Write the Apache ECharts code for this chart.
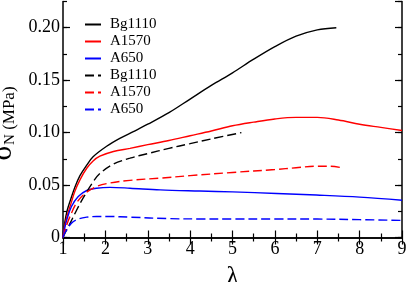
<!DOCTYPE html>
<html><head><meta charset="utf-8">
<script src="https://cdn.jsdelivr.net/npm/echarts@6/dist/echarts.min.js"></script>
<style>html,body{margin:0;padding:0;background:#fff}#c{width:407px;height:282px}</style>
</head><body><div id="c"></div>
<script>
// ---- data ----
const seriesNames = ['Bg1110', 'A1570', 'A650', 'Bg1110 ', 'A1570 ', 'A650 '];
const yTickLabels = ['0', '0.05', '0.10', '0.15', '0.20'];
const xTickLabels = ['1', '2', '3', '4', '5', '6', '7', '8', '9'];

const bgSolidX = [1, 1.04, 1.1, 1.17, 1.28, 1.4, 1.56, 1.71, 2.03, 2.34, 2.66, 3.0, 3.5, 4.0, 4.5, 5.0, 5.5, 6.0, 6.5, 7.0, 7.45];
const bgSolidY = [0, 0.014, 0.026, 0.035, 0.048, 0.059, 0.069, 0.077, 0.087, 0.0945, 0.101, 0.108, 0.119, 0.132, 0.145, 0.157, 0.170, 0.182, 0.192, 0.198, 0.200];

const a1570SolidX = [1, 1.04, 1.1, 1.17, 1.28, 1.4, 1.56, 1.71, 1.87, 2.19, 2.58, 3.0, 3.5, 4.0, 4.5, 5.0, 5.5, 6.0, 6.5, 7.0, 7.5, 8.0, 8.5, 9.0];
const a1570SolidY = [0, 0.011, 0.021, 0.030, 0.044, 0.055, 0.066, 0.073, 0.0775, 0.082, 0.0850, 0.0885, 0.0925, 0.097, 0.1015, 0.1065, 0.110, 0.113, 0.1145, 0.1145, 0.112, 0.108, 0.105, 0.102];

const a650SolidX = [1, 1.04, 1.09, 1.2, 1.36, 1.56, 1.79, 2.11, 2.58, 3.29, 4.23, 5.0, 6.04, 6.98, 8.0, 9.0];
const a650SolidY = [0, 0.009, 0.017, 0.0295, 0.039, 0.0448, 0.047, 0.0478, 0.047, 0.0454, 0.0443, 0.0435, 0.042, 0.0405, 0.0385, 0.0355];

const bgDashX = [1, 1.08, 1.17, 1.32, 1.48, 1.71, 1.87, 2.19, 2.58, 3.0, 3.5, 4.0, 4.5, 5.21];
const bgDashY = [0, 0.007, 0.0137, 0.026, 0.038, 0.053, 0.061, 0.070, 0.0756, 0.080, 0.085, 0.0895, 0.094, 0.100];

const a1570DashX = [1, 1.08, 1.165, 1.32, 1.52, 1.79, 2.11, 2.58, 3.29, 4.0, 5.0, 6.0, 6.5, 7.0, 7.3, 7.56];
const a1570DashY = [0, 0.011, 0.020, 0.033, 0.042, 0.0486, 0.052, 0.0545, 0.0566, 0.059, 0.062, 0.0648, 0.0665, 0.068, 0.068, 0.0667];

const a650DashX = [1, 1.04, 1.09, 1.2, 1.36, 1.56, 1.79, 2.11, 2.58, 3.5, 4.23, 5.0, 6.0, 7.0, 8.0, 9.0];
const a650DashY = [0, 0.004, 0.0073, 0.0137, 0.0175, 0.0194, 0.020, 0.020, 0.0194, 0.018, 0.0177, 0.0177, 0.0177, 0.0176, 0.017, 0.0163];

// ---- build ----
const zip = (xs, ys) => xs.map((x, i) => [x, ys[i]]);
const seriesData = [
  zip(bgSolidX, bgSolidY), zip(a1570SolidX, a1570SolidY), zip(a650SolidX, a650SolidY),
  zip(bgDashX, bgDashY), zip(a1570DashX, a1570DashY), zip(a650DashX, a650DashY)
];
const colors = ['#000000', '#ff0000', '#0000ff', '#000000', '#ff0000', '#0000ff'];
const styles = ['solid', 'solid', 'solid', [9, 4], [9, 4], [9, 4]];
const FONT = 'Liberation Serif';

const series = seriesNames.map((n, i) => ({
  name: n, type: 'line', data: seriesData[i], symbol: 'none', showSymbol: false,
  smooth: 0.35, xAxisIndex: 0, yAxisIndex: 0,
  lineStyle: { color: colors[i], width: 1.4, type: styles[i] },
  itemStyle: { color: colors[i] }
}));

const axLine = { show: true, lineStyle: { color: '#000', width: 1.5 } };
const baseX = { type: 'value', min: 1, max: 9, interval: 1, splitLine: { show: false }, axisLine: axLine,
  axisTick: { inside: true, length: 7, lineStyle: { color: '#000', width: 1.2 } },
  minorTick: { show: true, splitNumber: 2, length: 4, lineStyle: { color: '#000', width: 1.2 } } };
const majorY = { type: 'value', min: 0, max: 0.225, interval: 0.05, splitLine: { show: false }, axisLine: axLine,
  axisTick: { inside: true, length: 7, lineStyle: { color: '#000', width: 1.2 } } };
const minorY = { type: 'value', min: 0, max: 0.225, interval: 0.025, splitLine: { show: false },
  axisLine: { show: false }, axisLabel: { show: false },
  axisTick: { inside: true, length: 4, lineStyle: { color: '#000', width: 1.2 } } };

const chart = echarts.init(document.getElementById('c'), null, { renderer: 'canvas' });
chart.setOption({
  animation: false,
  backgroundColor: '#fff',
  grid: { left: 63, right: 5, top: 1.5, bottom: 44.5, containLabel: false, outerBoundsMode: 'none' },
  legend: {
    orient: 'vertical', left: 79, top: 12, itemWidth: 16, itemHeight: 12, itemGap: 2,
    data: seriesNames,
    itemStyle: { opacity: 0 },
    textStyle: { fontFamily: FONT, fontSize: 15, color: '#000', padding: [0, 0, 0, 4] }
  },
  xAxis: [
    Object.assign({}, baseX, { position: 'bottom',
      axisLabel: { color: '#000', fontFamily: FONT, fontSize: 18, margin: 3,
        formatter: v => xTickLabels[Math.round(v) - 1] },
      name: 'λ', nameLocation: 'middle', nameGap: 27,
      nameTextStyle: { fontFamily: FONT, fontSize: 25, color: '#000' } }),
    Object.assign({}, baseX, { position: 'top', axisLabel: { show: false } })
  ],
  yAxis: [
    Object.assign({}, majorY, { position: 'left',
      axisLabel: { color: '#000', fontFamily: FONT, fontSize: 18, margin: 3, showMaxLabel: false,
        formatter: v => { const k = Math.round(v / 0.05); return k < yTickLabels.length && Math.abs(v - k * 0.05) < 1e-9 ? yTickLabels[k] : ''; } },
      name: '{s|σ}{n|N}{m| (MPa)}', nameLocation: 'middle', nameRotate: 90, nameGap: 42,
      nameTextStyle: { fontFamily: FONT, color: '#000', padding: [0, 8, 0, 0],
        rich: {
          s: { fontFamily: FONT, fontSize: 29, lineHeight: 30, color: '#000', verticalAlign: 'bottom' },
          n: { fontFamily: FONT, fontSize: 15, lineHeight: 14, color: '#000', verticalAlign: 'bottom' },
          m: { fontFamily: FONT, fontSize: 17, lineHeight: 30, color: '#000', verticalAlign: 'bottom' }
        } } }),
    Object.assign({}, majorY, { position: 'right', axisLabel: { show: false } }),
    Object.assign({}, minorY, { position: 'left' }),
    Object.assign({}, minorY, { position: 'right' })
  ],
  series: series
});
</script></body></html>
